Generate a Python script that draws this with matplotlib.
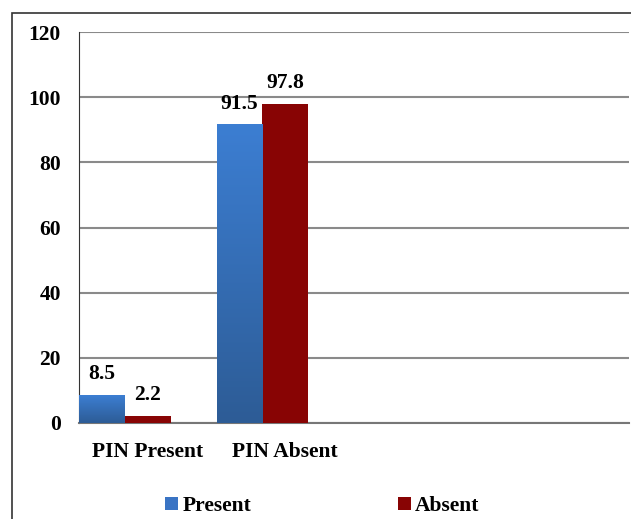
import numpy as np
import matplotlib.pyplot as plt
from matplotlib.patches import Rectangle
from matplotlib.colors import LinearSegmentedColormap

plt.rcParams['font.family'] = ['Liberation Serif', 'DejaVu Serif']
plt.rcParams['font.weight'] = 'bold'

categories = ['PIN Present', 'PIN Absent']
series_names = ['Present', 'Absent']
present = [8.5, 91.5]
absent = [2.2, 97.8]
yticks = [0, 20, 40, 60, 80, 100, 120]

fig = plt.figure(figsize=(6.31, 5.19), dpi=100)
ax = fig.add_axes([0.1252, 0.185, 0.8716, 0.7533])

# category slots hold three bars (third series is empty in the source chart)
x = np.arange(len(categories))
w = 0.333
b1 = ax.bar(x - w, present, w, color='#3a74c4', label=series_names[0], zorder=3)
b2 = ax.bar(x, absent, w, color='#880404', label=series_names[1], zorder=3)

# gradient on blue bars (light on top, darker at bottom)
cmap = LinearSegmentedColormap.from_list('blu', ['#2d5c96', '#3c7ed2'])
grad = np.linspace(0, 1, 100).reshape(-1, 1)
for r in b1:
    x0, y0, ww, hh = r.get_x(), r.get_y(), r.get_width(), r.get_height()
    ax.imshow(grad, cmap=cmap, origin='lower', aspect='auto',
              extent=(x0, x0 + ww, y0, y0 + hh), zorder=4)

fs = 15.5
for bars, vals in ((b1, present), (b2, absent)):
    for r, v in zip(bars, vals):
        ax.annotate(f'{v}', (r.get_x() + r.get_width() / 2, v), xytext=(0, 8),
                    textcoords='offset points', ha='center', va='bottom',
                    fontsize=fs, fontweight='bold')

ax.set_xlim(-0.5, 3.5)
ax.set_ylim(0, 120)
ax.set_yticks(yticks)
ax.set_xticks(x)
ax.set_xticklabels(categories)
ax.tick_params(axis='both', length=0, labelsize=fs)
ax.tick_params(axis='y', pad=13)
ax.tick_params(axis='x', pad=13.5)
ax.yaxis.grid(True, color='#8a8a8a', linewidth=1.5, zorder=0)
ax.set_axisbelow(True)
for s in ('top', 'right'):
    ax.spines[s].set_visible(False)
ax.spines['left'].set_color('#333333')
ax.spines['bottom'].set_color('#777777')
ax.spines['bottom'].set_linewidth(1.5)

fig.legend(handles=[b1, b2], labels=series_names, loc='center', bbox_to_anchor=(0.511, 0.025),
           ncol=2, frameon=False, fontsize=fs, handlelength=0.6, handleheight=0.6,
           handletextpad=0.2, columnspacing=6.8)

fig.patches.append(Rectangle((12 / 631, -0.1), 1.2, 1 - 13 / 519 + 0.1, transform=fig.transFigure,
                             fill=False, edgecolor='#333333', linewidth=1.2))

fig.savefig('out.png', dpi=100)
